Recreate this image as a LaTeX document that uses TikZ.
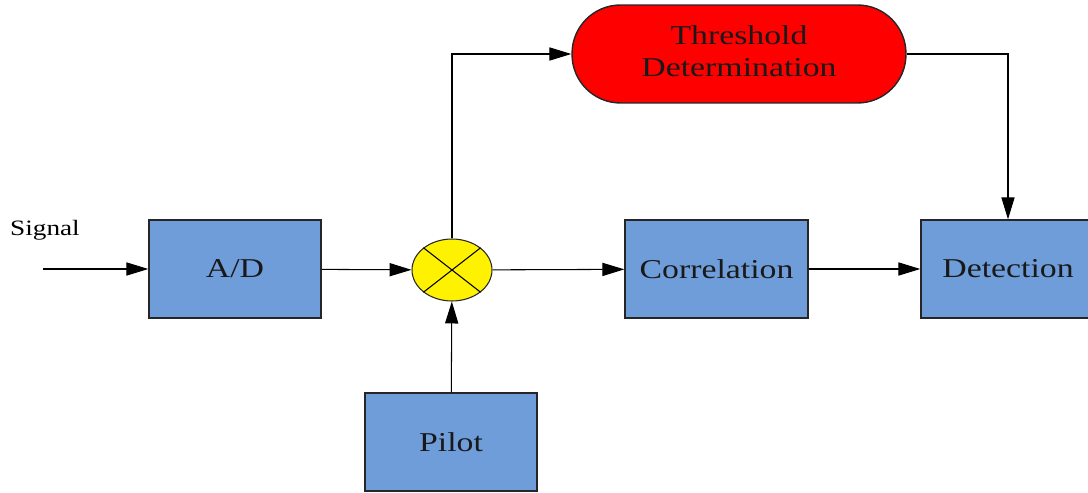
\documentclass[tikz,border=0pt]{standalone}
\usepackage{graphicx}
\usepackage{fontspec}
\setmainfont{Liberation Serif}
\usetikzlibrary{arrows.meta,positioning,shapes.geometric}
\definecolor{boxblue}{RGB}{111,157,217}
\newcommand{\wtext}[1]{\scalebox{1.24}[1]{#1}}

\begin{document}
\begin{tikzpicture}[->,>={Triangle[length=12.5pt,width=7.5pt]},semithick,
                    x=0.02cm,y=-0.02cm]
  \tikzstyle{block}=[draw=black!85,thick,fill=boxblue,rectangle,text=black!90,
                     minimum width=3.44cm,minimum height=1.96cm,
                     font=\fontsize{15.5}{18}\selectfont]
  \tikzstyle{mixer}=[draw=black!85,fill=yellow,ellipse,
                     minimum width=1.6cm,minimum height=1.24cm,inner sep=0pt]

  \useasboundingbox (0,0) rectangle (1088,493);

  \coordinate (in) at (43,269);
  \node (sig) at (45,230) {\fontsize{12.5}{14}\selectfont\wtext{Signal}};

  \node[block] (ad)    at (235,269)   {\wtext{A/D}};
  \node[mixer] (mult)  at (452,270)   {};
  \node[block,minimum width=3.66cm] (corr) at (716.5,269) {\wtext{Correlation}};
  \node[block,minimum width=3.48cm] (det)  at (1008,269)  {\wtext{Detection}};
  \node[block] (pilot) at (451,442)   {\wtext{Pilot}};
  \node[block,fill=red,minimum width=6.68cm,rounded corners=0.97cm]
       (thr) at (739,54)
       {\wtext{\begin{tabular}{@{}c@{}}Threshold\\[0pt]Determination\end{tabular}}};

  % cross in the mixer
  \draw[-] (mult.north west) -- (mult.south east)
           (mult.north east) -- (mult.south west);

  \draw (in)    -- (ad);
  \draw (ad)    -- (mult);
  \draw (mult)  -- (corr);
  \draw (corr)  -- (det);
  \draw (pilot) -- (mult);
  \draw (mult)  |- (thr);
  \draw (thr)   -| (det);
\end{tikzpicture}
\end{document}
